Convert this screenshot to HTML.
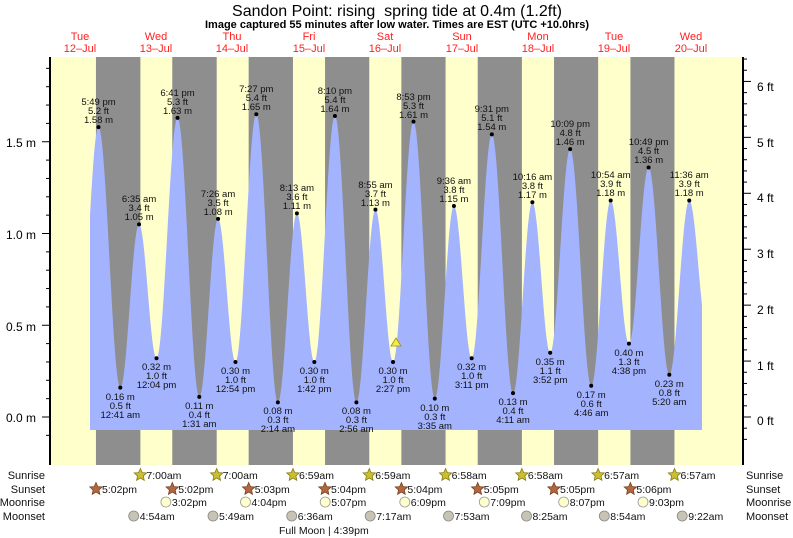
<!DOCTYPE html>
<html><head><meta charset="utf-8"><style>
body{margin:0;background:#fff}
svg{display:block;font-family:"Liberation Sans",sans-serif}
</style></head><body>
<svg id="s" width="793" height="538" viewBox="0 0 793 538" xmlns="http://www.w3.org/2000/svg">
<rect x="0" y="0" width="793" height="538" fill="#fff"/>
<g id="bands"></g>
<path id="tide" fill="#a3b3fd" d=""/>
<g id="ticks" stroke="#000" stroke-width="1"></g>
<line x1="50" y1="57" x2="50" y2="465" stroke="#000" stroke-width="2"/>
<line x1="743" y1="57" x2="743" y2="465" stroke="#000" stroke-width="2"/>
<g id="dots" fill="#000"></g>
<polygon points="396,338 391,346 401,346" fill="#f3f03c" stroke="#a08a10" stroke-width="0.8"/>
<g font-size="16" text-anchor="middle" fill="#000"><text x="397" y="16">Sandon Point: rising&#160; spring tide at 0.4m (1.2ft)</text></g>
<g font-size="11" font-weight="bold" text-anchor="middle"><text x="397" y="28">Image captured 55 minutes after low water. Times are EST (UTC +10.0hrs)</text></g>
<g font-size="11" text-anchor="middle" fill="#ff2020">
<text x="80" y="40">Tue</text><text x="80" y="52">12–Jul</text>
<text x="156" y="40">Wed</text><text x="156" y="52">13–Jul</text>
<text x="232" y="40">Thu</text><text x="232" y="52">14–Jul</text>
<text x="309" y="40">Fri</text><text x="309" y="52">15–Jul</text>
<text x="385" y="40">Sat</text><text x="385" y="52">16–Jul</text>
<text x="462" y="40">Sun</text><text x="462" y="52">17–Jul</text>
<text x="538" y="40">Mon</text><text x="538" y="52">18–Jul</text>
<text x="614" y="40">Tue</text><text x="614" y="52">19–Jul</text>
<text x="691" y="40">Wed</text><text x="691" y="52">20–Jul</text>
</g>
<g font-size="12" text-anchor="end">
<text x="36" y="147">1.5 m</text><text x="36" y="239">1.0 m</text><text x="36" y="331">0.5 m</text><text x="36" y="422">0.0 m</text>
</g>
<g font-size="12">
<text x="757" y="91">6 ft</text><text x="757" y="147">5 ft</text><text x="757" y="202">4 ft</text><text x="757" y="258">3 ft</text><text x="757" y="314">2 ft</text><text x="757" y="370">1 ft</text><text x="757" y="425">0 ft</text>
</g>
<g font-size="9.5" text-anchor="middle" fill="#111">
<text x="98.5" y="105">5:49 pm</text><text x="98.5" y="114">5.2 ft</text><text x="98.5" y="123">1.58 m</text>
<text x="120.3" y="400">0.16 m</text><text x="120.3" y="409">0.5 ft</text><text x="120.3" y="418">12:41 am</text>
<text x="139.1" y="202">6:35 am</text><text x="139.1" y="211">3.4 ft</text><text x="139.1" y="220">1.05 m</text>
<text x="156.5" y="370">0.32 m</text><text x="156.5" y="379">1.0 ft</text><text x="156.5" y="388">12:04 pm</text>
<text x="177.5" y="96">6:41 pm</text><text x="177.5" y="105">5.3 ft</text><text x="177.5" y="114">1.63 m</text>
<text x="199.3" y="409">0.11 m</text><text x="199.3" y="418">0.4 ft</text><text x="199.3" y="427">1:31 am</text>
<text x="218.1" y="197">7:26 am</text><text x="218.1" y="206">3.5 ft</text><text x="218.1" y="215">1.08 m</text>
<text x="235.5" y="374">0.30 m</text><text x="235.5" y="383">1.0 ft</text><text x="235.5" y="392">12:54 pm</text>
<text x="256.3" y="92">7:27 pm</text><text x="256.3" y="101">5.4 ft</text><text x="256.3" y="110">1.65 m</text>
<text x="277.9" y="414">0.08 m</text><text x="277.9" y="423">0.3 ft</text><text x="277.9" y="432">2:14 am</text>
<text x="296.9" y="191">8:13 am</text><text x="296.9" y="200">3.6 ft</text><text x="296.9" y="209">1.11 m</text>
<text x="314.3" y="374">0.30 m</text><text x="314.3" y="383">1.0 ft</text><text x="314.3" y="392">1:42 pm</text>
<text x="334.9" y="94">8:10 pm</text><text x="334.9" y="103">5.4 ft</text><text x="334.9" y="112">1.64 m</text>
<text x="356.4" y="414">0.08 m</text><text x="356.4" y="423">0.3 ft</text><text x="356.4" y="432">2:56 am</text>
<text x="375.4" y="188">8:55 am</text><text x="375.4" y="197">3.7 ft</text><text x="375.4" y="206">1.13 m</text>
<text x="393" y="374">0.30 m</text><text x="393" y="383">1.0 ft</text><text x="393" y="392">2:27 pm</text>
<text x="413.5" y="100">8:53 pm</text><text x="413.5" y="109">5.3 ft</text><text x="413.5" y="118">1.61 m</text>
<text x="434.8" y="411">0.10 m</text><text x="434.8" y="420">0.3 ft</text><text x="434.8" y="429">3:35 am</text>
<text x="453.9" y="184">9:36 am</text><text x="453.9" y="193">3.8 ft</text><text x="453.9" y="202">1.15 m</text>
<text x="471.7" y="370">0.32 m</text><text x="471.7" y="379">1.0 ft</text><text x="471.7" y="388">3:11 pm</text>
<text x="491.8" y="112">9:31 pm</text><text x="491.8" y="121">5.1 ft</text><text x="491.8" y="130">1.54 m</text>
<text x="513" y="405">0.13 m</text><text x="513" y="414">0.4 ft</text><text x="513" y="423">4:11 am</text>
<text x="532.4" y="180">10:16 am</text><text x="532.4" y="189">3.8 ft</text><text x="532.4" y="198">1.17 m</text>
<text x="550.2" y="365">0.35 m</text><text x="550.2" y="374">1.1 ft</text><text x="550.2" y="383">3:52 pm</text>
<text x="570.2" y="127">10:09 pm</text><text x="570.2" y="136">4.8 ft</text><text x="570.2" y="145">1.46 m</text>
<text x="591.2" y="398">0.17 m</text><text x="591.2" y="407">0.6 ft</text><text x="591.2" y="416">4:46 am</text>
<text x="610.7" y="178">10:54 am</text><text x="610.7" y="187">3.9 ft</text><text x="610.7" y="196">1.18 m</text>
<text x="628.9" y="356">0.40 m</text><text x="628.9" y="365">1.3 ft</text><text x="628.9" y="374">4:38 pm</text>
<text x="648.6" y="145">10:49 pm</text><text x="648.6" y="154">4.5 ft</text><text x="648.6" y="163">1.36 m</text>
<text x="669.3" y="387">0.23 m</text><text x="669.3" y="396">0.8 ft</text><text x="669.3" y="405">5:20 am</text>
<text x="689.2" y="178">11:36 am</text><text x="689.2" y="187">3.9 ft</text><text x="689.2" y="196">1.18 m</text>
</g>
<g id="icons"></g>
<g font-size="11" text-anchor="end" fill="#111">
<text x="45" y="479">Sunrise</text><text x="45" y="493">Sunset</text><text x="45" y="506">Moonrise</text><text x="45" y="520">Moonset</text>
</g>
<g font-size="11" fill="#111">
<text x="746" y="479">Sunrise</text><text x="746" y="493">Sunset</text><text x="746" y="506">Moonrise</text><text x="746" y="520">Moonset</text>
</g>
<g font-size="10.5" fill="#111">
<text x="146.4" y="479">7:00am</text><text x="222.7" y="479">7:00am</text><text x="299" y="479">6:59am</text><text x="375.3" y="479">6:59am</text><text x="451.6" y="479">6:58am</text><text x="527.9" y="479">6:58am</text><text x="604.1" y="479">6:57am</text><text x="680.5" y="479">6:57am</text>
<text x="102" y="493">5:02pm</text><text x="178.3" y="493">5:02pm</text><text x="254.7" y="493">5:03pm</text><text x="331" y="493">5:04pm</text><text x="407.4" y="493">5:04pm</text><text x="483.7" y="493">5:05pm</text><text x="560" y="493">5:05pm</text><text x="636.4" y="493">5:06pm</text>
<text x="171.9" y="506">3:02pm</text><text x="251.5" y="506">4:04pm</text><text x="331.2" y="506">5:07pm</text><text x="410.8" y="506">6:09pm</text><text x="490.3" y="506">7:09pm</text><text x="569.7" y="506">8:07pm</text><text x="649" y="506">9:03pm</text>
<text x="139.7" y="520">4:54am</text><text x="219" y="520">5:49am</text><text x="297.7" y="520">6:36am</text><text x="376.2" y="520">7:17am</text><text x="454.5" y="520">7:53am</text><text x="532.5" y="520">8:25am</text><text x="610.3" y="520">8:54am</text><text x="688.2" y="520">9:22am</text>
<text x="279" y="534">Full Moon | 4:39pm</text>
</g>
</svg>
<script>
(function(){
var NS="http://www.w3.org/2000/svg";
function X(h){return 41.8+3.18*h;}
function Y(m){return 417-183.5*m;}
function el(p,t,a){var e=document.createElementNS(NS,t);for(var k in a)e.setAttribute(k,a[k]);document.getElementById(p).appendChild(e);return e;}
el("bands","rect",{x:50,y:57,width:693,height:408,fill:"#ffffcc"});
var ss=[17.03,17.03,17.05,17.07,17.07,17.08,17.08,17.1,17.1],sr=[7,7,7,6.98,6.98,6.97,6.97,6.95,6.95];
for(var d=0;d<8;d++){var a=X(24*d+ss[d]),b=X(24*(d+1)+sr[d+1]);el("bands","rect",{x:a,y:57,width:b-a,height:408,fill:"#8e8e8e"});}
var E=[[11.5,0.3],[17.82,1.58],[24.68,0.16],[30.58,1.05],[36.07,0.32],[42.68,1.63],[49.52,0.11],[55.43,1.08],[60.9,0.30],[67.45,1.65],[74.23,0.08],[80.22,1.11],[85.7,0.30],[92.17,1.64],[98.93,0.08],[104.92,1.13],[110.45,0.30],[116.88,1.61],[123.58,0.10],[129.6,1.15],[135.18,0.32],[141.52,1.54],[148.18,0.13],[154.27,1.17],[159.87,0.35],[166.15,1.46],[172.77,0.17],[178.9,1.18],[184.63,0.40],[190.82,1.36],[197.33,0.23],[203.6,1.18],[209.4,0.45]];
function lv(h){for(var i=0;i<E.length-1;i++){if(h>=E[i][0]&&h<=E[i+1][0]){var t=(h-E[i][0])/(E[i+1][0]-E[i][0]);return E[i][1]+(E[i+1][1]-E[i][1])*(1-Math.cos(Math.PI*t))/2;}}return 0.5;}
var h0=(90-41.8)/3.18,h1=(702-41.8)/3.18,d="M90,430";
for(var h=h0;h<=h1;h+=0.1){d+=" L"+X(h).toFixed(2)+","+Y(lv(h)).toFixed(2);}
d+=" L"+X(h1).toFixed(2)+","+Y(lv(h1)).toFixed(2)+" L702,430 Z";
document.getElementById("tide").setAttribute("d",d);
for(var i=1;i<E.length-1;i++)el("dots","circle",{cx:X(E[i][0]),cy:Y(E[i][1]),r:2});
for(var k=-1;k<=20;k++){var y=Y(k*0.1);if(y<58||y>464)continue;var L=(k%5==0)?8:4;el("ticks","line",{x1:50-L,y1:y,x2:50,y2:y});}
for(var k=-2;k<=32;k++){var y=417-55.93*k*0.2;if(y<58||y>464)continue;var L=(k%5==0)?8:4;el("ticks","line",{x1:743,y1:y,x2:743+L,y2:y});}
function star(x,y,f,s){var p=[];for(var i=0;i<10;i++){var r=i%2?3:6.5,a=-Math.PI/2+i*Math.PI/5;p.push((x+r*Math.cos(a)).toFixed(1)+","+(y+r*Math.sin(a)).toFixed(1));}el("icons","polygon",{points:p.join(" "),fill:f,stroke:s,"stroke-width":0.8});}
[140.4,216.7,293,369.3,445.6,521.9,598.1,674.5].forEach(function(x){star(x,475,"#c8c030","#8a7a10");});
[96,172.3,248.7,325,401.4,477.7,554,630.4].forEach(function(x){star(x,489,"#b06840","#7a4020");});
[165.9,245.5,325.2,404.8,484.3,563.7,643].forEach(function(x){el("icons","circle",{cx:x,cy:502,r:5,fill:"#ffffcc",stroke:"#999","stroke-width":0.8});});
[133.7,213,291.7,370.2,448.5,526.5,604.3,682.2].forEach(function(x){el("icons","circle",{cx:x,cy:516,r:5,fill:"#c8c4b4",stroke:"#888","stroke-width":0.8});});
})();
</script>
</body></html>
